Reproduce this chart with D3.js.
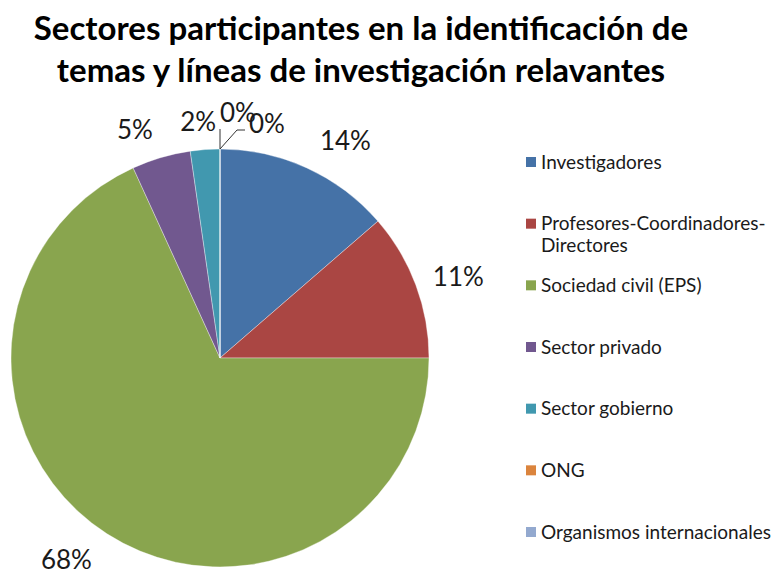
<!DOCTYPE html>
<html><head><meta charset="utf-8">
<script src="https://cdn.jsdelivr.net/npm/d3@7"></script>
<style>body{margin:0;background:#fff}svg{display:block}</style>
</head><body>
<svg id="c" width="777" height="576"></svg>
<script>
const titleLines = ["Sectores participantes en la identificación de", "temas y líneas de investigación relavantes"];
const categories = ["Investigadores", "Profesores-Coordinadores-Directores", "Sociedad civil (EPS)", "Sector privado", "Sector gobierno", "ONG", "Organismos internacionales"];
const legendLines = [["Investigadores"], ["Profesores-Coordinadores-", "Directores"], ["Sociedad civil (EPS)"], ["Sector privado"], ["Sector gobierno"], ["ONG"], ["Organismos internacionales"]];
const values = [6, 5, 30, 2, 1, 0, 0];
const colors = ["#4572A7", "#AA4643", "#89A54E", "#71588F", "#4198AF", "#DB843D", "#93A9CF"];

const svg = d3.select("#c");
const font = "Lato, 'Open Sans', sans-serif";
const cx = 220, cy = 358, R = 209;

// title
const title = svg.append("g");
titleLines.forEach((t, i) => {
  title.append("text").attr("x", 361).attr("y", 40 + i * 42)
    .attr("text-anchor", "middle").attr("font-family", font).attr("font-weight", "bold")
    .attr("font-size", 33).attr("fill", "#000").text(t);
});

const total = d3.sum(values);
const pie = d3.pie().sort(null).value(d => d);
const arcs = pie(values);
const arc = d3.arc().innerRadius(0).outerRadius(R);
const g = svg.append("g").attr("transform", `translate(${cx},${cy})`);
g.selectAll("path").data(arcs).join("path")
  .attr("d", arc).attr("fill", (d, i) => colors[i])
  .attr("stroke", "#fff").attr("stroke-width", 0.6).attr("stroke-opacity", 0.6);

// labels
const fmt = v => Math.round(v / total * 100) + "%";
const labelArc = d3.arc().innerRadius(R + 40).outerRadius(R + 40);
const nudge = [[22, 9], [5, 6], [-19, -8], [-15, 11], [-4, 12], [18, 4], [47, 15]];
arcs.forEach((a, i) => {
  const [x, y] = labelArc.centroid(a);
  g.append("text").attr("x", x + nudge[i][0]).attr("y", y + nudge[i][1]).attr("dy", "0.35em")
    .attr("text-anchor", "middle").attr("font-family", font).attr("font-size", 26)
    .attr("fill", "#1a1a1a").text(fmt(a.value));
});
// leader lines for zero slices
const edge = [Math.sin(arcs[5].startAngle) * R, -Math.cos(arcs[5].startAngle) * R];
g.append("path").attr("d", `M${edge[0]},${edge[1]}L${edge[0]},${edge[1] - 20}`)
  .attr("stroke", "#333").attr("stroke-width", 1).attr("fill", "none");
g.append("path").attr("d", `M${edge[0]},${edge[1]}L${edge[0] + 17},${edge[1] - 19}L${edge[0] + 25},${edge[1] - 19}`)
  .attr("stroke", "#333").attr("stroke-width", 1).attr("fill", "none");

// legend
const ly = d3.scalePoint().domain(d3.range(categories.length)).range([162, 532]);
const leg = svg.append("g");
categories.forEach((c, i) => {
  const y = ly(i);
  leg.append("rect").attr("x", 526).attr("y", y - 5).attr("width", 10).attr("height", 10).attr("fill", colors[i]);
  legendLines[i].forEach((t, j) => {
    leg.append("text").attr("x", 541).attr("y", y + j * 22).attr("dy", "0.35em")
      .attr("font-family", font).attr("font-size", 19).attr("fill", "#1a1a1a").text(t);
  });
});
</script>
</body></html>
